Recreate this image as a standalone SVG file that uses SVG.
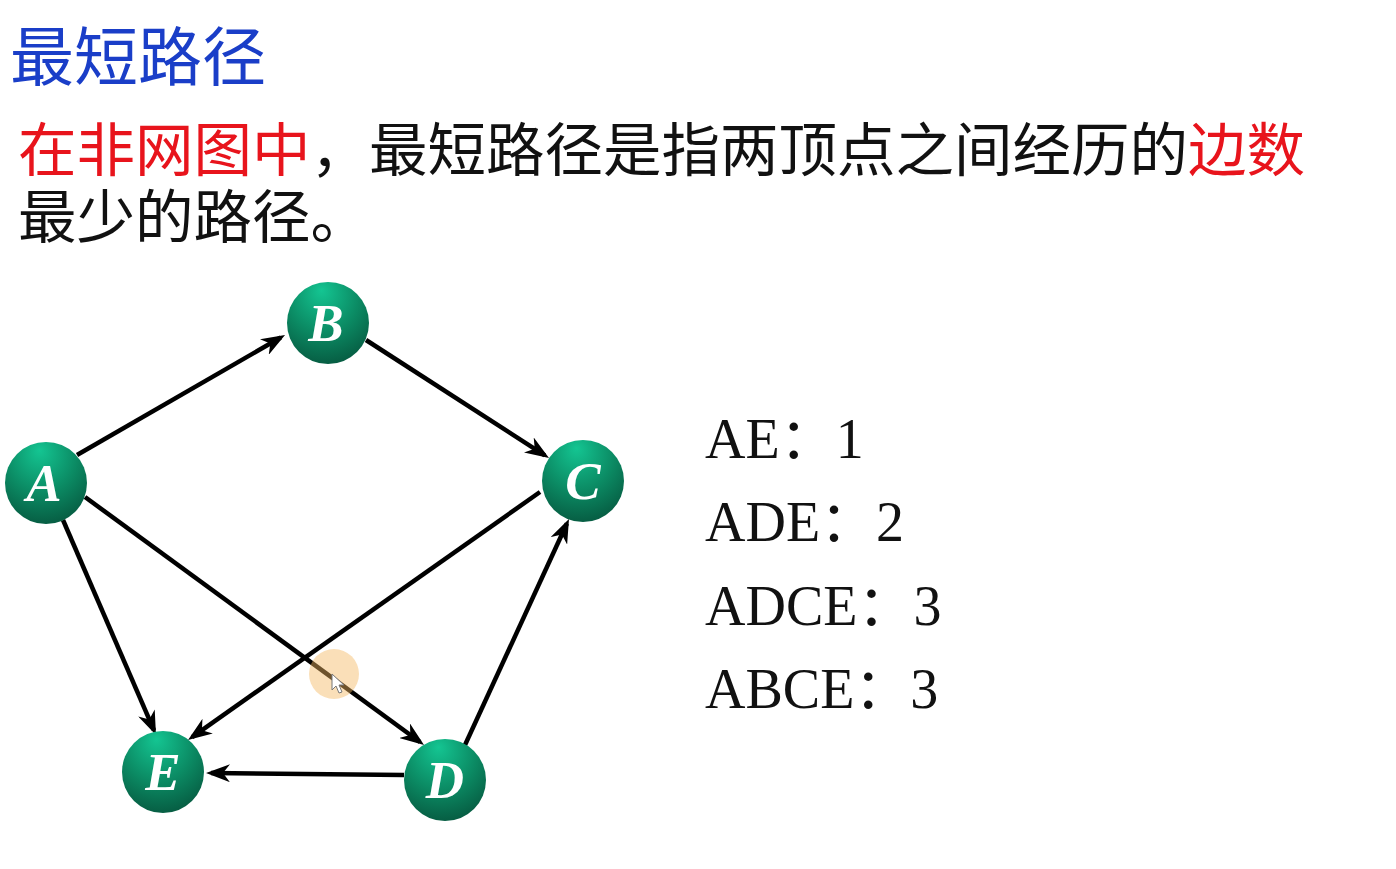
<svg xmlns="http://www.w3.org/2000/svg" width="1396" height="869" viewBox="0 0 1396 869">
<style>
.cjk{font-family:"Noto Sans CJK SC","Noto Sans",sans-serif;}
.title{font-size:64px;fill:#1a3ec8;}
.body{font-size:58.5px;fill:#111;}
.red{fill:#e8141c;}
.res{font-family:"Liberation Serif","Noto Sans CJK SC",serif;font-size:56px;fill:#111;}
.edge{stroke:#000;stroke-width:4.5;fill:none;marker-end:url(#arr);}
.node circle{fill:url(#ng);}
.node text{font-family:"Liberation Serif",serif;font-style:italic;font-weight:bold;font-size:53px;fill:#fff;text-anchor:middle;}
</style>
<defs>
<radialGradient id="ng" cx="0.45" cy="0.25" r="0.8" fx="0.42" fy="0.1">
<stop offset="0" stop-color="#14c592"/>
<stop offset="0.55" stop-color="#0b8a63"/>
<stop offset="1" stop-color="#06583f"/>
</radialGradient>
<marker id="arr" viewBox="0 0 24 18" refX="19" refY="9" markerWidth="24" markerHeight="18" markerUnits="userSpaceOnUse" orient="auto">
<path d="M0,0 L24,9 L0,18 L7,9 Z" fill="#000"/>
</marker>
</defs>
<rect width="1396" height="869" fill="#fff"/>
<text class="cjk title" x="10" y="80">最短路径</text>
<text class="cjk body" x="18" y="171"><tspan class="red">在非网图中</tspan>，最短路径是指两顶点之间经历的<tspan class="red">边数</tspan></text>
<text class="cjk body" x="18" y="238">最少的路径。</text>
<g id="connectors">
<line class="edge" x1="77" y1="455" x2="280.7" y2="337.5"/>
<line class="edge" x1="366" y1="340" x2="544.8" y2="455.3"/>
<line class="edge" x1="63" y1="520" x2="154" y2="730.4"/>
<line class="edge" x1="85" y1="497" x2="420" y2="742"/>
<line class="edge" x1="540" y1="492" x2="192.1" y2="737.1"/>
<line class="edge" x1="465" y1="745" x2="566.9" y2="523.5"/>
<line class="edge" x1="404" y1="775" x2="211" y2="773"/>
</g>
<g id="nodeA" class="node"><circle cx="46" cy="483" r="41"/><text x="44" y="501">A</text></g>
<g id="nodeB" class="node"><circle cx="328" cy="323" r="41"/><text x="326" y="341">B</text></g>
<g id="nodeC" class="node"><circle cx="583" cy="481" r="41"/><text x="583" y="499">C</text></g>
<g id="nodeD" class="node"><circle cx="445" cy="780" r="41"/><text x="445" y="798">D</text></g>
<g id="nodeE" class="node"><circle cx="163" cy="772" r="41"/><text x="163" y="790">E</text></g>
<circle cx="334" cy="674" r="25" fill="#f3b862" opacity="0.45"/>
<path d="M332,674 L332,690 L336,686 L339,693 L342,692 L339,685 L344,685 Z" fill="#fff" stroke="#777" stroke-width="1"/>
<text class="res" x="705" y="458">AE：1</text>
<text class="res" x="705" y="541">ADE：2</text>
<text class="res" x="705" y="625">ADCE：3</text>
<text class="res" x="705" y="708">ABCE：3</text>
</svg>
